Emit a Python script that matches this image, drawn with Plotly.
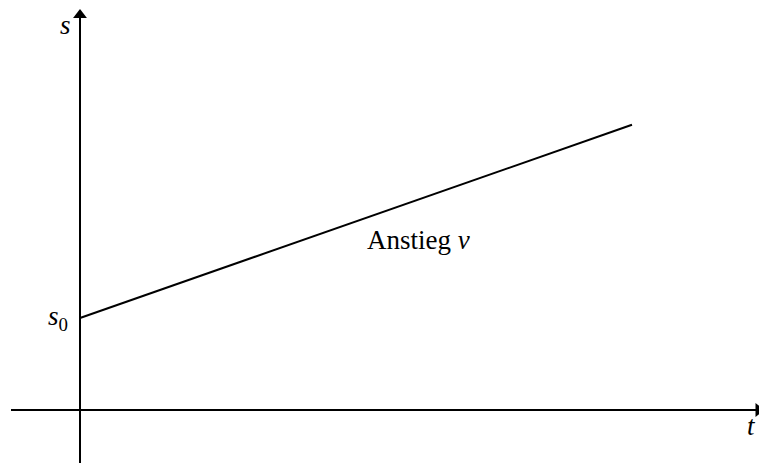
import plotly.graph_objects as go

# Data (t in arbitrary units, s in arbitrary units)
t_vals = [0, 6]
s_vals = [1, 3.1]
s0 = 1

PX = 92.0  # pixels per unit
x_range = [-80 / PX, (759 - 80) / PX]
y_range = [-(463 - 410) / PX, 410 / PX]

fig = go.Figure()

# axes
fig.add_trace(go.Scatter(x=[-69 / PX, (758 - 80) / PX], y=[0, 0], mode="lines",
                         line=dict(color="black", width=2), showlegend=False,
                         hoverinfo="skip", cliponaxis=False))
fig.add_trace(go.Scatter(x=[0, 0], y=[y_range[0] - 0.05, (410 - 18) / PX], mode="lines",
                         line=dict(color="black", width=2), showlegend=False,
                         hoverinfo="skip", cliponaxis=False))
# arrowheads
fig.add_trace(go.Scatter(x=[0], y=[(410 - 15) / PX], mode="markers",
                         marker=dict(symbol="triangle-up", size=12, color="black"),
                         showlegend=False, hoverinfo="skip", cliponaxis=False))
fig.add_trace(go.Scatter(x=[(758.5 - 80) / PX], y=[0], mode="markers",
                         marker=dict(symbol="triangle-right", size=12, color="black"),
                         showlegend=False, hoverinfo="skip", cliponaxis=False))

# the line s(t)
fig.add_trace(go.Scatter(x=t_vals, y=s_vals, mode="lines",
                         line=dict(color="black", width=2), showlegend=False,
                         hoverinfo="skip"))

font = dict(family="Liberation Serif, DejaVu Serif, serif", size=27, color="black")

# labels
fig.add_annotation(x=-15 / PX, y=(410 - 25) / PX, text="<i>s</i>", showarrow=False,
                   font=font, xanchor="center", yanchor="middle")
fig.add_annotation(x=-22 / PX, y=s0, text="<i>s</i><sub>0</sub>", showarrow=False,
                   font=font, xanchor="center", yanchor="middle")
fig.add_annotation(x=(751 - 80) / PX, y=-(426 - 410) / PX, text="<i>t</i>", showarrow=False,
                   font=font, xanchor="center", yanchor="middle")
fig.add_annotation(x=(418 - 80) / PX, y=(410 - 240) / PX, text="Anstieg <i>v</i>",
                   showarrow=False, font=font, xanchor="center", yanchor="middle")

fig.update_layout(
    width=759, height=463,
    margin=dict(l=0, r=0, t=0, b=0),
    paper_bgcolor="white", plot_bgcolor="white",
    xaxis=dict(range=x_range, visible=False, fixedrange=True),
    yaxis=dict(range=y_range, visible=False, fixedrange=True),
)

fig.write_html("out.html", config={"displayModeBar": False},
               post_script="document.body.style.margin='0px';document.body.style.overflow='hidden';")
